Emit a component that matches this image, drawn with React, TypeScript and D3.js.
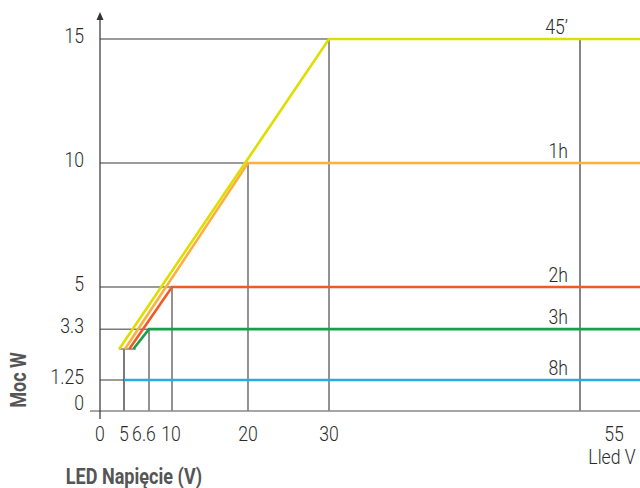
import React from "react";
import * as d3 from "d3";

// ---- data ----
const xTickValues = [0, 5, 6.6, 10, 20, 30, 55];
const xTickLabels = ["0", "5", "6.6", "10", "20", "30", "55"];
const yTickValues = [0, 1.25, 3.3, 5, 10, 15];
const yTickLabels = ["0", "1.25", "3.3", "5", "10", "15"];

const seriesNames = ["45’", "1h", "2h", "3h", "8h"];
const seriesColors = ["#DEDE00", "#FBB040", "#F15A24", "#17A04B", "#29ABE2"];
const startV = [4, 5.06, 5.34, 5.6, 5];
const startW = [2.5, 2.5, 2.5, 2.5, 1.25];
const kneeV = [30, 20, 10, 6.6, 5];
const kneeW = [15, 10, 5, 3.3, 1.25];
const endV = 60;
const baseCap = { x1: 4, x2: 5.75, w: 2.5, vx: 5 };
const markerV = 55;

const W = 640;
const H = 488;

export default function App() {
  // piecewise (schematic) voltage scale
  const x = d3
    .scaleLinear()
    .domain([0, 5, 6.6, 10, 20, 30, 55, 60])
    .range([100, 124, 149, 172, 248, 329, 580, 640]);
  const y = d3.scaleLinear().domain([0, 15]).range([411, 39]);

  const line = d3
    .line<[number, number]>()
    .x((d) => x(d[0]))
    .y((d) => y(d[1]));

  const lightFont = "Roboto, sans-serif";
  const sx = 0.84;

  const txt = (
    key: string,
    tx: number,
    ty: number,
    s: string,
    opts: { anchor?: string; size?: number; weight?: number; fill?: string; rotate?: number } = {}
  ) => (
    <text
      key={key}
      transform={`translate(${tx},${ty})${opts.rotate ? ` rotate(${opts.rotate})` : ""} scale(${sx},1)`}
      textAnchor={opts.anchor ?? "middle"}
      fontFamily={lightFont}
      fontWeight={opts.weight ?? 300}
      fontSize={opts.size ?? 21}
      fill={opts.fill ?? "#2a2a2a"}
    >
      {s}
    </text>
  );

  return (
    <svg
      width={W}
      height={H}
      style={{ position: "absolute", left: 0, top: 0, background: "#fff" }}
    >
      {/* horizontal guides */}
      {kneeW.map((w, i) => (
        <line
          key={"hg" + i}
          x1={x(0)}
          x2={x(kneeV[i])}
          y1={y(w)}
          y2={y(w)}
          stroke="#7a7a7a"
          strokeWidth={1.5}
        />
      ))}
      {/* vertical guides */}
      {kneeV.slice(0, 4).map((v, i) => (
        <line
          key={"vg" + i}
          x1={x(v)}
          x2={x(v)}
          y1={y(kneeW[i])}
          y2={y(0)}
          stroke="#4a4a4a"
          strokeWidth={1.2}
        />
      ))}
      <line
        x1={x(baseCap.vx)}
        x2={x(baseCap.vx)}
        y1={y(baseCap.w)}
        y2={y(0)}
        stroke="#222"
        strokeWidth={1.2}
      />
      <line
        x1={x(baseCap.x1)}
        x2={x(baseCap.x2)}
        y1={y(baseCap.w)}
        y2={y(baseCap.w)}
        stroke="#8a8a8a"
        strokeWidth={1.6}
      />
      <line
        x1={x(markerV)}
        x2={x(markerV)}
        y1={y(15)}
        y2={y(0)}
        stroke="#222"
        strokeWidth={1.1}
      />

      {/* x axis */}
      <line x1={90} x2={W} y1={y(0)} y2={y(0)} stroke="#888" strokeWidth={1.6} />
      {/* y axis */}
      <line x1={x(0)} x2={x(0)} y1={18} y2={419} stroke="#333" strokeWidth={1.2} />
      <path d={`M${x(0)},12 L${x(0) - 3.5},20 L${x(0) + 3.5},20 Z`} fill="#333" />

      {/* series */}
      {seriesNames.map((n, i) => (
        <path
          key={"s" + i}
          d={
            line([
              [startV[i], startW[i]],
              [kneeV[i], kneeW[i]],
              [endV, kneeW[i]],
            ]) as string
          }
          fill="none"
          stroke={seriesColors[i]}
          strokeWidth={2.6}
          strokeLinejoin="miter"
        />
      ))}

      {/* series labels */}
      {seriesNames.map((n, i) => txt("sl" + i, 568, y(kneeW[i]) - 5, n, { anchor: "end" }))}

      {/* y tick labels */}
      {yTickValues.map((v, i) =>
        txt("yt" + i, 84, y(v) + 3.5 - (v === 0 ? 5 : 0), yTickLabels[i], { anchor: "end" })
      )}

      {/* x tick labels */}
      {xTickValues.map((v, i) =>
        txt(
          "xt" + i,
          v === 55 ? 614 : v === 6.6 ? 144 : v === 10 ? 171 : x(v),
          441,
          xTickLabels[i]
        )
      )}
      {txt("lled", 612, 464, "Lled V")}

      {/* axis titles */}
      {txt("xtitle", 134, 484, "LED Napięcie (V)", { weight: 700, size: 21.5, fill: "#555" })}
      {txt("ytitle", 26, 380, "Moc W", { weight: 700, size: 21.5, fill: "#555", rotate: -90 })}
    </svg>
  );
}
